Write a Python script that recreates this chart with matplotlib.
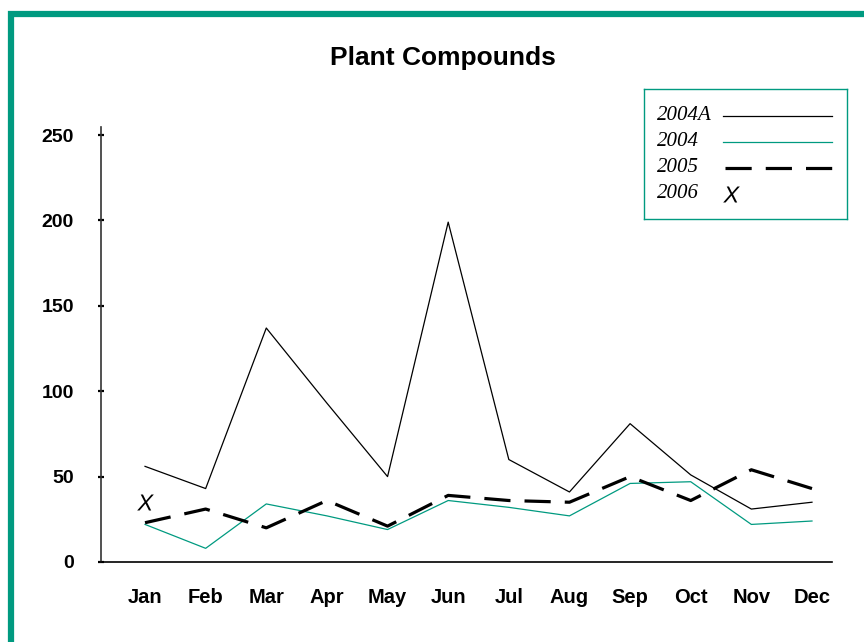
import matplotlib
matplotlib.use('Agg')
import matplotlib.pyplot as plt
from matplotlib.patches import Rectangle
import numpy as np

plt.rcParams['font.family'] = ['Liberation Sans', 'DejaVu Sans']
plt.rcParams['mathtext.fontset'] = 'custom'
plt.rcParams['mathtext.it'] = 'Liberation Sans:italic'

TEAL = "#009a80"

MONTHS = ["Jan", "Feb", "Mar", "Apr", "May", "Jun", "Jul", "Aug", "Sep", "Oct", "Nov", "Dec"]
S2004A = [56, 43, 137, 93, 50, 199, 60, 41, 81, 51, 31, 35]
S2004  = [22, 8, 34, 27, 19, 36, 32, 27, 46, 47, 22, 24]
S2005  = [23, 31, 20, 36, 21, 39, 36, 35, 50, 36, 54, 43]
S2006  = [35]
SERIES = ["2004A", "2004", "2005", "2006"]
YTICKS = [0, 50, 100, 150, 200, 250]

fig = plt.figure(figsize=(8.64, 6.42), dpi=100)
fig.patch.set_facecolor("white")

# teal frame (top and left visible)
fig.patches.append(Rectangle((11/864, -0.1), 1.2, 1 - 14/642 + 0.1, transform=fig.transFigure,
                             fill=False, edgecolor=TEAL, linewidth=4.5, zorder=0))

ax = fig.add_axes([101/864, 1 - 562/642, (832 - 101)/864, (562 - 127)/642])
x = np.arange(len(MONTHS))
ax.plot(x, S2004A, color="black", lw=0.9)
ax.plot(x, S2004, color=TEAL, lw=0.9)
ax.plot(x, S2005, color="black", lw=2.3, dashes=(8.2, 4.4))
ax.plot(x[:len(S2006)], S2006, ls="none", marker="$X$", ms=12, mew=0, color="black")

ax.set_xlim(-0.726, 11.33)
ax.set_ylim(0, 254.7)
ax.set_xticks(x)
ax.set_xticklabels(MONTHS, fontsize=14.5, fontweight="bold")
ax.set_yticks(YTICKS)
ax.set_yticklabels([str(v) for v in YTICKS], fontsize=14, fontweight="bold")
ax.tick_params(axis="x", length=0, pad=19)
ax.tick_params(axis="y", direction="inout", length=5, width=1.6, pad=17)
for sp in ["top", "right"]:
    ax.spines[sp].set_visible(False)
ax.spines["left"].set_color("#333333")
ax.spines["left"].set_linewidth(1.2)
ax.spines["bottom"].set_linewidth(1.2)

fig.text(443/864, 1 - 58/642, "Plant Compounds", ha="center", va="center",
         fontsize=19, fontweight="bold")

# legend box
lg = fig.add_axes([644/864, 1 - 219/642, (847 - 644)/864, (219 - 89)/642])
lg.set_xlim(644, 847)
lg.set_ylim(219, 89)
lg.set_xticks([]); lg.set_yticks([])
for sp in lg.spines.values():
    sp.set_edgecolor(TEAL); sp.set_linewidth(1)
rows = [116, 142, 168, 194]
for name, yy in zip(SERIES, rows):
    lg.text(657, yy, name, fontsize=15, style="italic", family="Liberation Serif",
            va="center", ha="left")
lg.plot([723, 832], [rows[0]] * 2, color="black", lw=0.9)
lg.plot([723, 832], [rows[1]] * 2, color=TEAL, lw=0.9)
lg.plot([725, 832], [rows[2]] * 2, color="black", lw=2.3, dashes=(8.2, 4.4))
lg.plot([731], [rows[3]], ls="none", marker="$X$", ms=12, mew=0, color="black")

plt.savefig("out.png", dpi=100, facecolor="white")
